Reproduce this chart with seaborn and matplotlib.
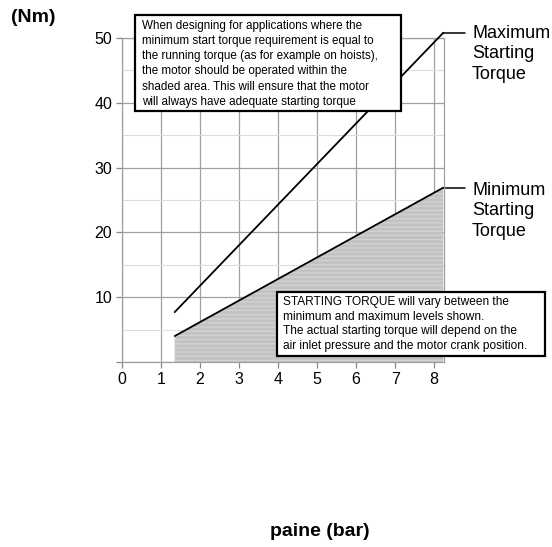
import numpy as np
from matplotlib import pyplot as plt
from matplotlib.patches import Rectangle
import pandas as pd
import seaborn as sns

# data
pressure = [1.35, 8.23]
max_torque = [7.7, 50.8]
min_torque = [4.0, 26.9]
x_ticks = [0, 1, 2, 3, 4, 5, 6, 7, 8]
y_ticks = [0, 10, 20, 30, 40, 50]
y_tick_labels = ['', '10', '20', '30', '40', '50']

top_note = ("When designing for applications where the\n"
            "minimum start torque requirement is equal to\n"
            "the running torque (as for example on hoists),\n"
            "the motor should be operated within the\n"
            "shaded area. This will ensure that the motor\n"
            "will always have adequate starting torque")
bottom_note = ("STARTING TORQUE will vary between the\n"
               "minimum and maximum levels shown.\n"
               "The actual starting torque will depend on the\n"
               "air inlet pressure and the motor crank position.")

sns.set_style('white')
plt.rcParams['font.family'] = ['Liberation Sans', 'DejaVu Sans']
plt.rcParams['text.color'] = 'black'

W, H = 552, 547
fig = plt.figure(figsize=(W / 100, H / 100), dpi=100)


def fx(x):
  return x / W


def fy(y):
  return 1 - y / H


ax = fig.add_axes([fx(122), fy(362), (444 - 122) / W, (362 - 38) / H])

df = pd.DataFrame({'pressure': pressure, 'Maximum': max_torque, 'Minimum': min_torque})

# shaded operating area under the minimum line
ax.fill_between(df['pressure'], 0, df['Minimum'], facecolor='#c2c2c2', edgecolor='#d2d2d2',
                hatch='----', linewidth=0, zorder=1)

sns.lineplot(data=df, x='pressure', y='Maximum', color='black', linewidth=1.3, ax=ax)
sns.lineplot(data=df, x='pressure', y='Minimum', color='black', linewidth=1.3, ax=ax)
for ln in ax.lines:
  ln.set_clip_on(False)
  ln.set_zorder(3)

# leader lines to the labels
ax.plot([max(pressure), 8.79], [max_torque[-1], max_torque[-1]], color='black', lw=1.1, clip_on=False)
ax.plot([max(pressure), 8.79], [min_torque[-1], min_torque[-1]], color='black', lw=1.1, clip_on=False)

ax.set_xlim(0, 8.25)
ax.set_ylim(0, 50)
ax.set_xticks(x_ticks)
ax.set_xticklabels([str(t) for t in x_ticks])
ax.set_yticks(y_ticks)
ax.set_yticklabels(y_tick_labels)
ax.set_yticks([5, 15, 25, 35, 45], minor=True)
ax.grid(True, which='major', color='#a0a0a0', linewidth=0.9, zorder=0)
ax.grid(True, which='minor', axis='y', color='#dddddd', linewidth=0.8, zorder=0)
ax.set_axisbelow(True)
ax.tick_params(axis='both', which='major', length=4, width=0.9, color='#888888',
               labelsize=11.5, labelcolor='black', pad=3, bottom=True, left=True)
ax.tick_params(axis='y', which='minor', length=0)
for s in ax.spines.values():
  s.set_color('#a0a0a0')
  s.set_linewidth(0.9)
ax.set_xlabel('')
ax.set_ylabel('')

# axis titles
fig.text(fx(11), fy(18), '(Nm)', fontsize=14, fontweight='bold', va='center', ha='left')
fig.text(fx(320), fy(532), 'paine (bar)', fontsize=14, fontweight='bold', va='center', ha='center')

# line labels
fig.text(fx(472), fy(25), 'Maximum\nStarting\nTorque', fontsize=13, va='top', ha='left', linespacing=1.26)
fig.text(fx(472), fy(182), 'Minimum\nStarting\nTorque', fontsize=13, va='top', ha='left', linespacing=1.26)

# note boxes
fig.add_artist(Rectangle((fx(135), fy(111)), 266 / W, 96 / H, transform=fig.transFigure,
                         facecolor='white', edgecolor='black', linewidth=1.6, zorder=5))
fig.text(fx(142), fy(20), top_note, fontsize=8.4, va='top', ha='left', linespacing=1.35, zorder=6)

fig.add_artist(Rectangle((fx(277), fy(356)), 268 / W, 64 / H, transform=fig.transFigure,
                         facecolor='white', edgecolor='black', linewidth=1.6, zorder=5))
fig.text(fx(283), fy(296), bottom_note, fontsize=8.6, va='top', ha='left', linespacing=1.3, zorder=6)

fig.savefig('out.png', dpi=100)
